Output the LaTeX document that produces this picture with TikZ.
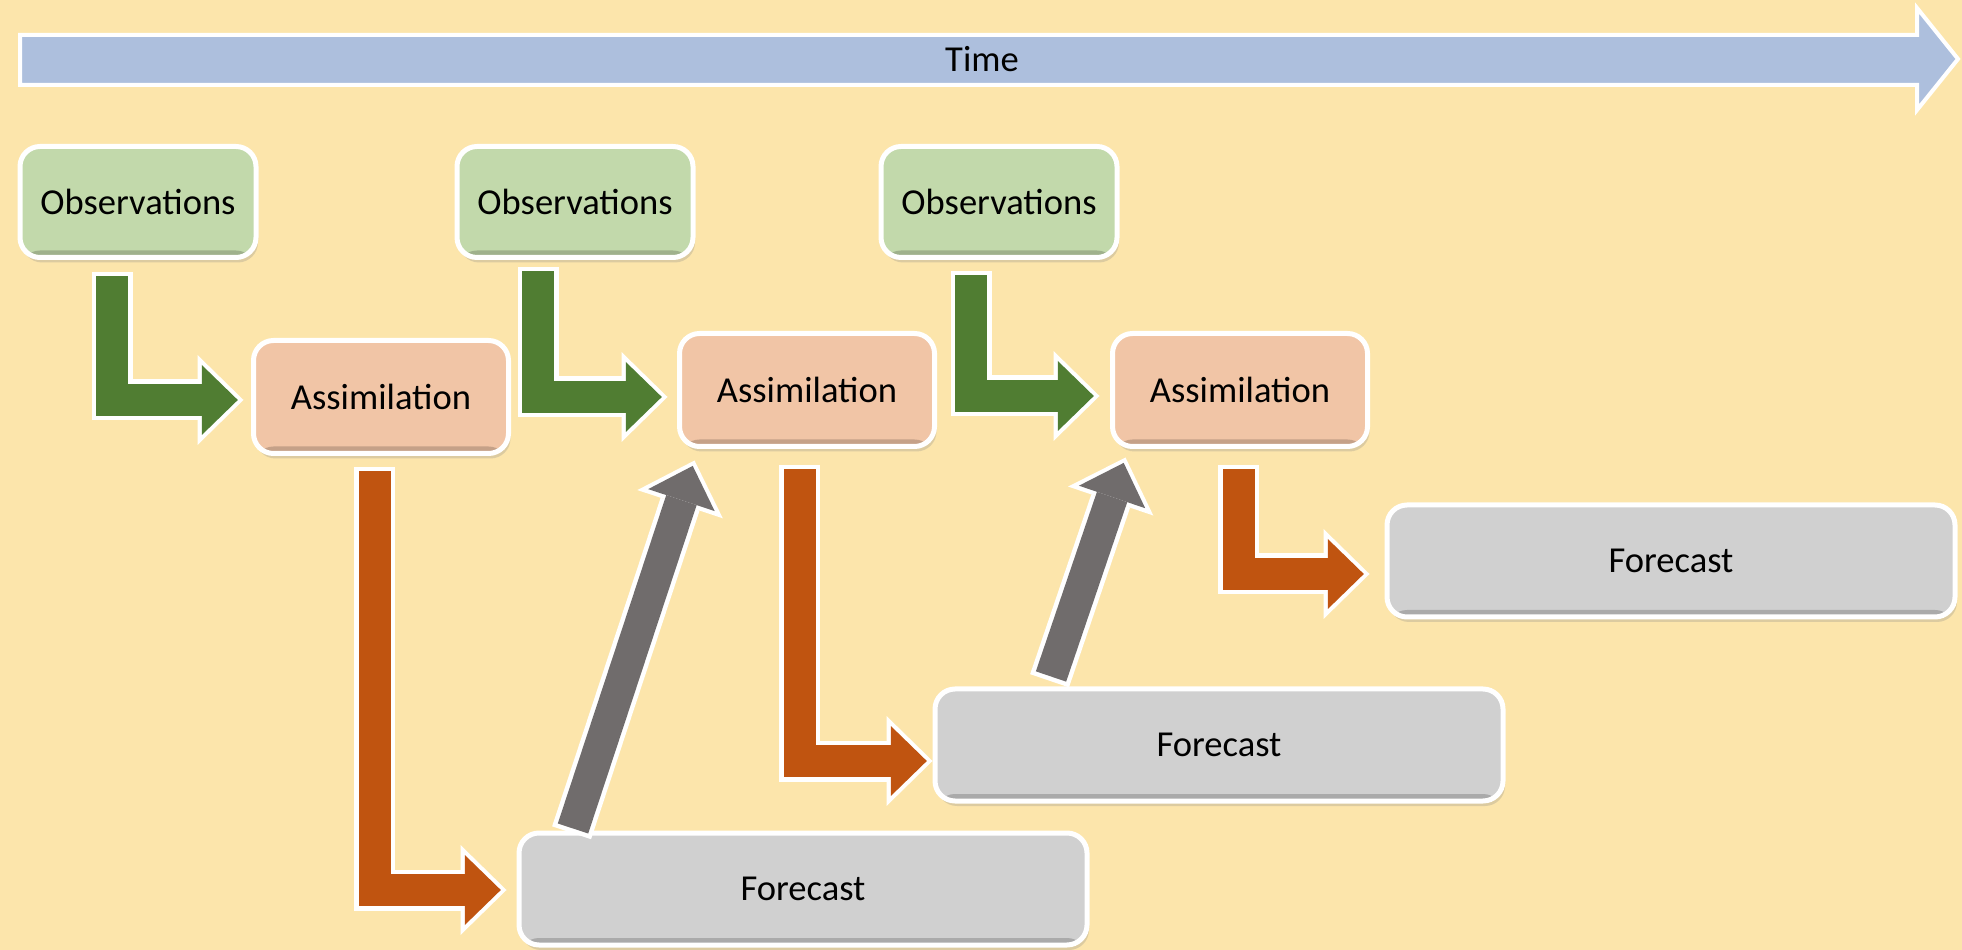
\documentclass[tikz,border=0pt]{standalone}
\usepackage{fontspec}
\setmainfont{Carlito}
\usepackage{tikz}
\usetikzlibrary{arrows.meta, shadows}
\definecolor{bgColor}{RGB}{252, 229, 171}
\definecolor{timeFill}{RGB}{173, 191, 221}
\definecolor{obsFill}{RGB}{194, 217, 171}
\definecolor{asmFill}{RGB}{241, 197, 166}
\definecolor{fcFill}{RGB}{208, 208, 208}
\definecolor{obsArrow}{RGB}{80, 125, 50}
\definecolor{fcArrow}{RGB}{192, 84, 16}
\definecolor{backArrow}{RGB}{112, 108, 108}

\begin{document}
\begin{tikzpicture}[x=0.1mm, y=-0.1mm,
    box/.style={rectangle, rounded corners=2mm, draw=white, line width=0.5mm, font=\fontsize{10.4}{12}\selectfont,
        drop shadow={shadow xshift=0.2mm, shadow yshift=-0.5mm, opacity=0.25},
        path picture={\fill[black, opacity=0.18] ([yshift=0.7mm]path picture bounding box.south west)
            rectangle (path picture bounding box.south east);}},
    obsBox/.style={box, fill=obsFill, minimum width=23.6mm, minimum height=11.1mm},
    asmBox/.style={box, fill=asmFill, minimum width=25.5mm, minimum height=11.3mm},
    fcBox/.style={box, fill=fcFill, minimum width=56.8mm, minimum height=11.2mm},
    block/.style={line width=3.2mm, -{Triangle[length=3.6mm, width=7mm, line width=0pt]}, shorten >=0.57mm,
        preaction={draw=white, line width=4.1mm, -{Triangle[length=4.6mm, width=9mm, line width=0pt]},
            shorten >=0pt, shorten <=-0.45mm}},
    obsLink/.style={block, draw=obsArrow},
    fcLink/.style={block, draw=fcArrow},
    backLink/.style={block, draw=backArrow}]
    \useasboundingbox (0,0) rectangle (1962,950);
    \fill[bgColor] (0,0) rectangle (1962,950);

    \draw[white, line width=0.4mm, fill=timeFill] (20,35) -- (1917,35) -- (1917,8) -- (1958,59)
        -- (1917,110) -- (1917,85) -- (20,85) -- cycle;
    \node[font=\fontsize{10.4}{12}\selectfont] (time) at (982,59) {Time};

    \node[obsBox] (obs1) at (138,202) {Observations};
    \node[obsBox] (obs2) at (575,202) {Observations};
    \node[obsBox] (obs3) at (999,202) {Observations};
    \node[asmBox] (asm1) at (381,397) {Assimilation};
    \node[asmBox] (asm2) at (807,390) {Assimilation};
    \node[asmBox] (asm3) at (1240,390) {Assimilation};
    \node[fcBox] (fc1) at (803,889) {Forecast};
    \node[fcBox] (fc2) at (1219,745) {Forecast};
    \node[fcBox] (fc3) at (1671,561) {Forecast};

    \draw[obsLink] ([xshift=-2.6mm, yshift=-1.65mm]obs1.south) |- ([xshift=-0.75mm, yshift=-0.3mm]asm1.west);
    \draw[obsLink] ([xshift=-3.7mm, yshift=-1.15mm]obs2.south) |- ([xshift=-0.95mm, yshift=-0.7mm]asm2.west);
    \draw[obsLink] ([xshift=-2.8mm, yshift=-1.55mm]obs3.south) |- ([xshift=-1.05mm, yshift=-0.6mm]asm3.west);

    \draw[fcLink] ([xshift=-0.65mm, yshift=-1.55mm]asm1.south) |- ([xshift=-1mm, yshift=-0.1mm]fc1.west);
    \draw[fcLink] ([xshift=-0.75mm, yshift=-2.05mm]asm2.south) |- ([yshift=-1.6mm]fc2.west);
    \draw[fcLink] ([xshift=-0.15mm, yshift=-2.05mm]asm3.south) |- ([xshift=-1.5mm, yshift=-1.3mm]fc3.west);

    % forecast feeds the next assimilation
    \draw[backLink] ([xshift=-23mm, yshift=0.2mm]fc1.north) -- ([xshift=1.75mm, yshift=-1.15mm]asm2.south west);
    \draw[backLink] ([xshift=-16.8mm, yshift=1mm]fc2.north) -- ([xshift=1.55mm, yshift=-0.85mm]asm3.south west);
\end{tikzpicture}
\end{document}
